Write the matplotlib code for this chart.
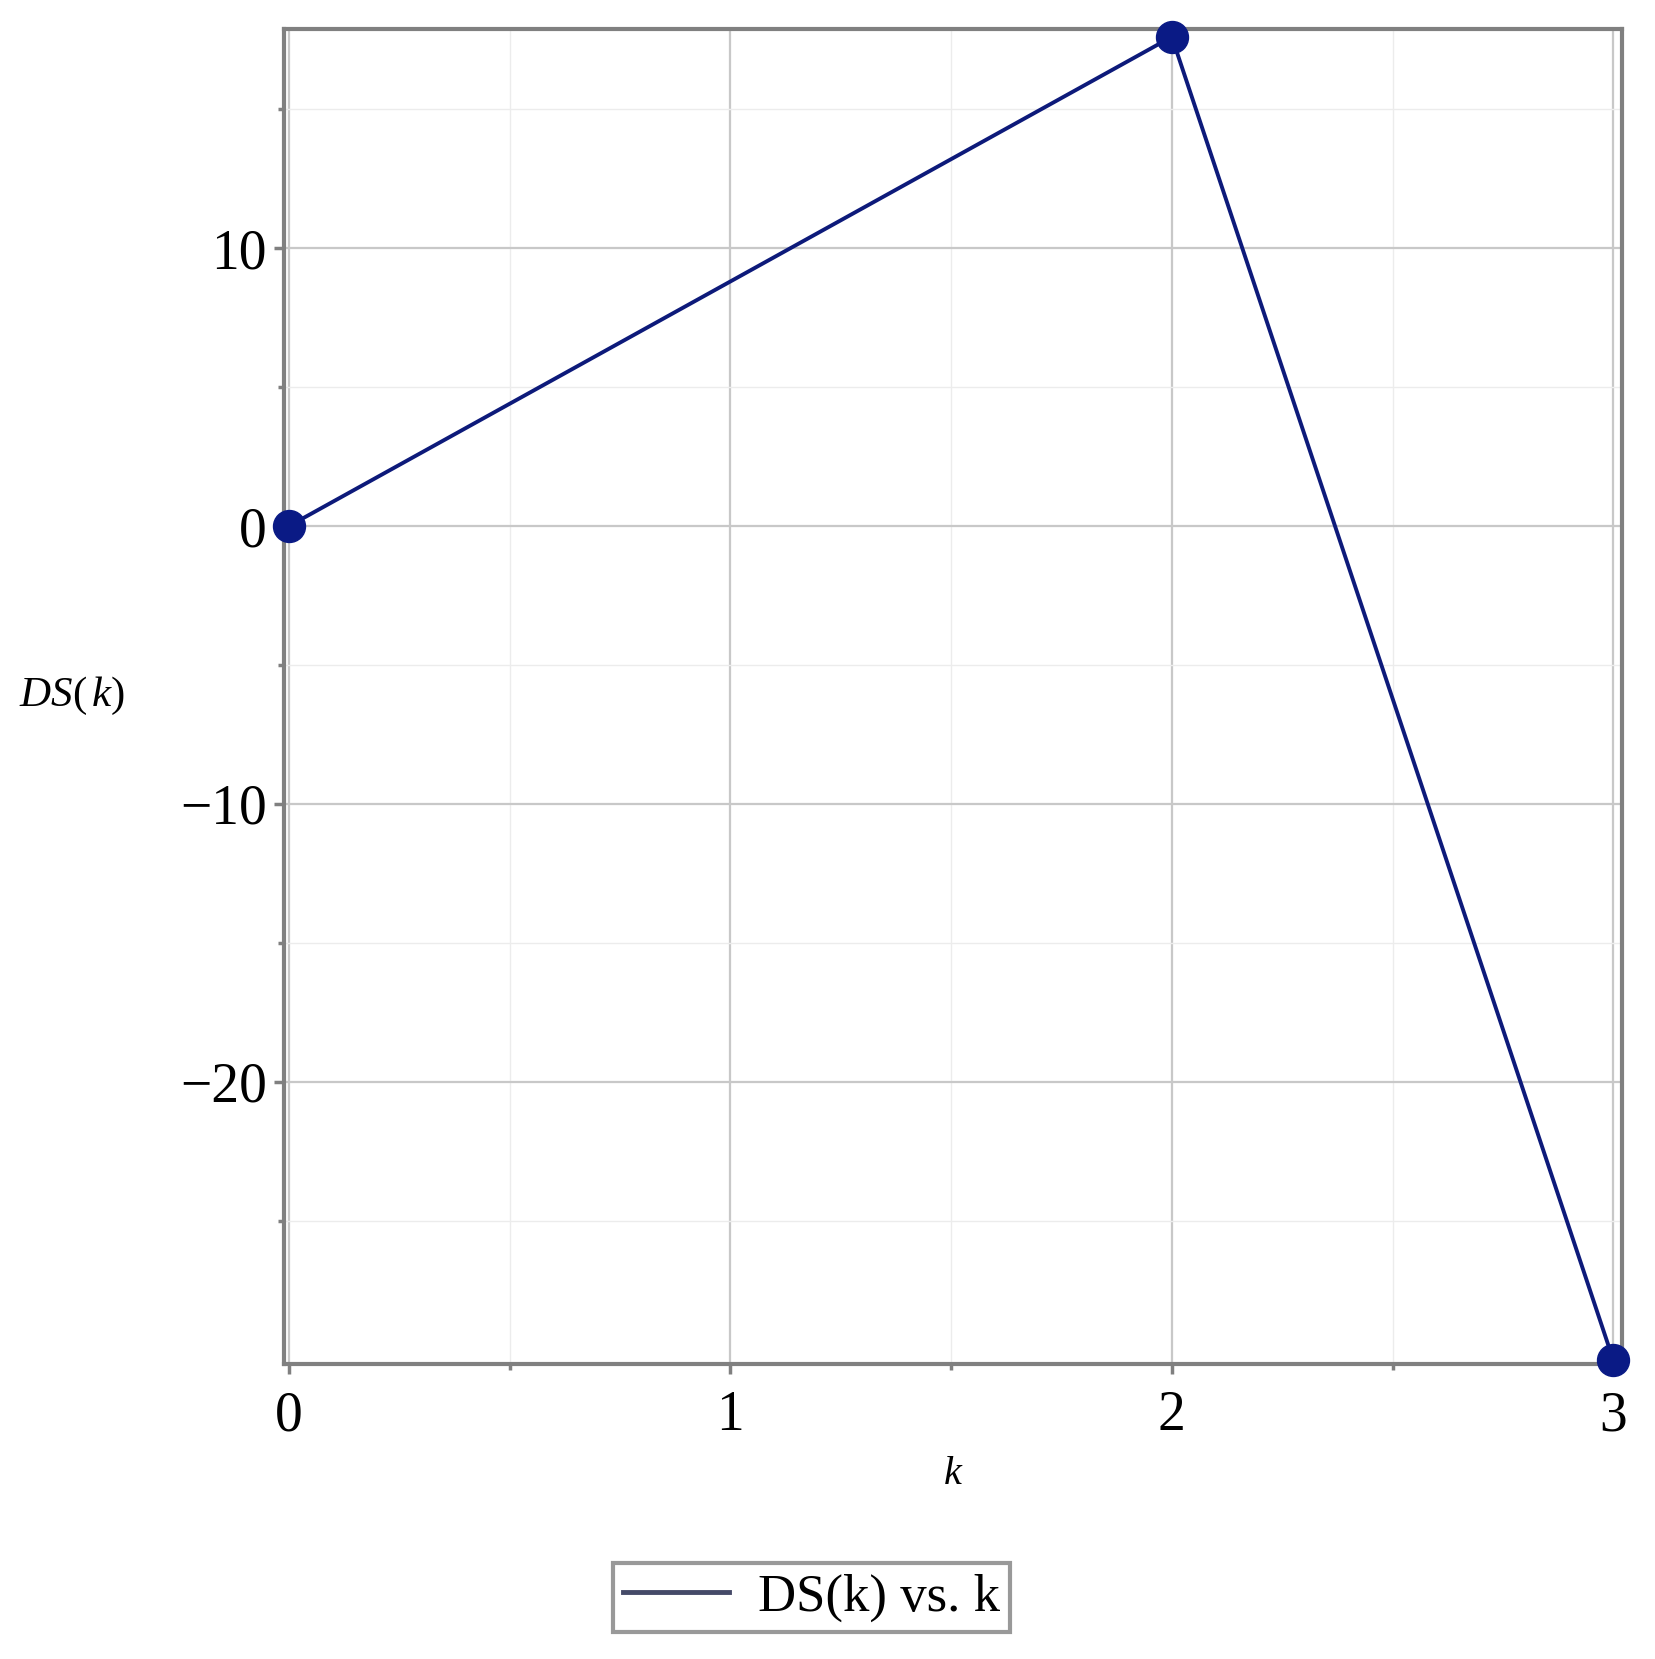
import matplotlib
matplotlib.use('Agg')
import matplotlib.pyplot as plt
from matplotlib.ticker import FixedLocator

k = [0, 2, 3]
ds = [0, 17.6, -30.0]
x_ticks = [0, 1, 2, 3]
x_minor = [0.5, 1.5, 2.5]
y_ticks = [-20, -10, 0, 10]
y_minor = [-25, -15, -5, 5, 15]

plt.rcParams['font.family'] = ['Liberation Serif', 'DejaVu Serif']
plt.rcParams['mathtext.fontset'] = 'custom'
plt.rcParams['mathtext.it'] = 'Liberation Serif:italic'
plt.rcParams['mathtext.rm'] = 'Liberation Serif'

fig = plt.figure(figsize=(16.56, 16.59), dpi=100)
ax = fig.add_axes([0.1713, 0.1778, 0.8082, 0.805])

navy = '#0d1a7a'
ax.plot(k, ds, color=navy, lw=2.8, zorder=3, label='DS(k) vs. k')
ax.plot(k, ds, 'o', color='#0a1a85', ms=23, zorder=4, clip_on=False)

ax.set_xlim(-0.012, 3.02)
ax.set_ylim(-30.15, 17.9)
ax.set_xticks(x_ticks)
ax.set_yticks(y_ticks)
ax.xaxis.set_minor_locator(FixedLocator(x_minor))
ax.yaxis.set_minor_locator(FixedLocator(y_minor))

ax.grid(which='major', color='#c8c8c8', lw=1.6, zorder=0)
ax.grid(which='minor', color='#ececec', lw=1.0, zorder=0)
ax.set_axisbelow(True)

for s in ax.spines.values():
    s.set_color('#808080')
    s.set_linewidth(3)

ax.tick_params(which='major', direction='out', length=7, width=2.5, color='#808080',
               labelsize=40)
ax.tick_params(axis='x', which='major', pad=12)
ax.tick_params(axis='y', which='major', pad=5)
ax.tick_params(which='minor', direction='out', length=4, width=2.5, color='#808080')

ax.set_xlabel(r'$k$', fontsize=29, labelpad=10)
ax.set_ylabel(r'$DS(\,k)$', fontsize=31, rotation=0, va='center', ha='left')
ax.yaxis.set_label_coords(-0.198, 0.5)

leg = fig.legend(loc='center', bbox_to_anchor=(0.49, 0.037), fontsize=38,
                 frameon=True, fancybox=False, handlelength=2.0, borderpad=0.2,
                 handletextpad=0.55)
leg.get_frame().set_edgecolor('#808080')
leg.get_frame().set_linewidth(3)
leg.get_lines()[0].set_linewidth(3.5)
leg.get_lines()[0].set_color('#454a68')

fig.savefig('out.png', dpi=100)
